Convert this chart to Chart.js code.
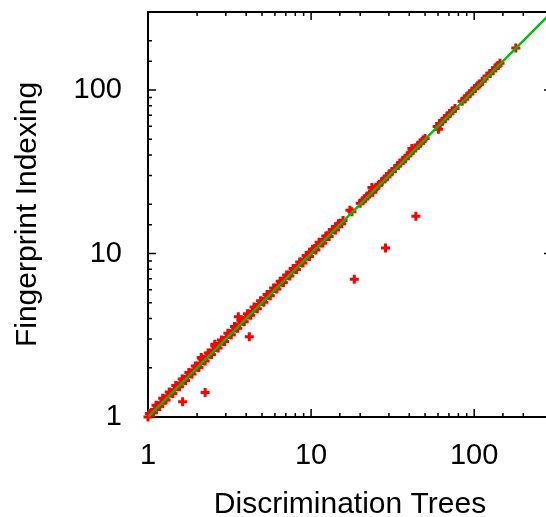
<!DOCTYPE html>
<html><head><meta charset="utf-8">
<script src="https://cdn.jsdelivr.net/npm/chart.js@4"></script>
<style>html,body{margin:0;padding:0;background:#fff;overflow:hidden;width:546px;height:517px}canvas{display:block}</style>
</head><body>
<canvas id="c" width="560" height="517"></canvas>
<script>
const xTitle = 'Discrimination Trees';
const yTitle = 'Fingerprint Indexing';
const labeledTicks = [1, 10, 100];
const axisMin = 1;
const axisMax = 300;
const diagonalEnds = [1, 300];

const discTrees = [
  1.00,1.05,1.10,1.15,1.20,1.26,1.32,1.38,1.45,1.52,1.59,1.66,1.74,1.82,1.91,
  2.00,2.09,2.19,2.29,2.40,2.51,2.63,2.75,2.88,3.02,3.16,3.31,3.47,3.63,3.80,
  3.98,4.17,4.37,4.57,4.79,5.01,5.25,5.50,5.75,6.03,6.31,6.61,6.92,7.24,7.59,
  7.94,8.32,8.71,9.12,9.55,10.0,10.5,11.0,11.5,12.0,12.6,13.2,13.8,14.4,15.1,15.7,
  1.02,1.08,1.12,1.18,1.23,1.29,1.35,1.42,1.48,1.56,1.62,1.70,1.78,1.86,1.95,
  2.05,2.14,2.24,2.34,2.45,2.57,2.69,2.82,2.95,3.09,3.24,3.39,3.55,3.71,3.89,
  4.07,4.27,4.47,4.68,4.90,5.13,5.37,5.62,5.89,6.17,6.46,6.76,7.08,7.41,7.76,
  8.13,8.51,8.91,9.33,9.77,10.2,10.7,11.2,11.8,12.3,12.9,13.5,14.1,14.7,15.4,
  2.12,2.57,17.3,17.8,23.6,41.5,60.4,
  20.0,20.7,21.4,22.1,22.8,23.9,24.3,25.0,25.8,
  27.3,28.2,29.2,30.2,31.3,
  32.8,34.0,35.2,36.5,37.8,39.3,
  40.5,42.0,43.6,45.2,46.9,48.6,50.0,
  59.3,61.5,63.8,66.1,68.5,71.0,73.6,76.3,
  84.4,87.5,90.7,94.0,97.4,101,105,108,112,
  120,125,130,135,140,144,
  180,
  1.63,2.24,4.18,3.58,18.4,28.6,43.9
];
const fpIndexing = [
  1.00,1.06,1.11,1.17,1.22,1.27,1.35,1.40,1.47,1.55,1.61,1.70,1.76,1.86,1.93,
  2.05,2.12,2.25,2.32,2.46,2.55,2.70,2.79,2.94,3.06,3.23,3.36,3.52,3.70,3.86,
  4.05,4.22,4.45,4.63,4.88,5.08,5.33,5.57,5.86,6.10,6.42,6.69,7.05,7.33,7.70,
  8.04,8.45,8.82,9.26,9.66,10.2,10.6,11.2,11.6,12.2,12.8,13.4,14.0,14.6,15.3,15.9,
  1.05,1.06,1.18,1.16,1.30,1.27,1.42,1.39,1.56,1.53,1.71,1.67,1.87,1.83,2.05,
  2.01,2.27,2.20,2.46,2.41,2.72,2.64,2.96,2.90,3.25,3.18,3.58,3.49,3.90,3.82,
  4.28,4.19,4.70,4.60,5.14,5.04,5.62,5.52,6.16,6.06,6.76,6.64,7.40,7.28,8.10,
  7.99,8.88,8.75,9.72,9.60,10.6,10.5,11.7,11.6,12.8,12.7,14.0,13.9,15.2,15.2,
  2.31,2.79,18.4,18.0,25.3,43.9,57.5,
  20.3,21.0,21.6,22.5,23.1,23.7,24.6,25.4,26.1,
  27.7,28.6,29.5,30.7,31.6,
  33.1,34.5,35.6,37.2,38.0,39.9,
  41.2,42.6,44.2,45.9,47.3,49.4,50.6,
  59.8,62.3,64.5,66.8,69.5,71.8,74.6,77.0,
  85.3,88.0,91.8,95.0,98.5,102,106,109,113,
  122,126,131,137,141,146,
  181,
  1.24,1.41,3.10,4.11,6.96,10.8,16.9
];

const FONT = "'Liberation Sans', Arial, Helvetica, sans-serif";
const points = discTrees.map((x, i) => ({x: x, y: fpIndexing[i]}));
const diagonal = diagonalEnds.map(v => ({x: v, y: v}));

function isDecade(v) {
  const l = Math.log10(v);
  return Math.abs(l - Math.round(l)) < 1e-9;
}
function noPad(scale) {
  scale.paddingTop = 0; scale.paddingBottom = 0;
  scale.paddingLeft = 0; scale.paddingRight = 0;
}

const framePlugin = {
  id: 'frame',
  beforeDatasetsDraw(chart) {
    const {ctx, chartArea: a, scales} = chart;
    const sx = scales.x, sy = scales.y;
    ctx.save();
    ctx.strokeStyle = '#000';
    ctx.lineWidth = 1.5;
    ctx.beginPath();
    sx.ticks.forEach(t => {
      const p = sx.getPixelForValue(t.value);
      const len = isDecade(t.value) ? 8 : 4;
      ctx.moveTo(p, a.bottom); ctx.lineTo(p, a.bottom - len);
      ctx.moveTo(p, a.top); ctx.lineTo(p, a.top + len);
    });
    sy.ticks.forEach(t => {
      const p = sy.getPixelForValue(t.value);
      const len = isDecade(t.value) ? 8 : 4;
      ctx.moveTo(a.left, p); ctx.lineTo(a.left + len, p);
      ctx.moveTo(a.right, p); ctx.lineTo(a.right - len, p);
    });
    ctx.stroke();
    ctx.lineWidth = 2;
    ctx.strokeRect(a.left, a.top, a.right - a.left, a.bottom - a.top);
    ctx.restore();
  }
};

new Chart(document.getElementById('c'), {
  type: 'scatter',
  data: {
    datasets: [
      {
        type: 'line',
        label: 'y = x',
        data: diagonal,
        borderColor: '#00c000',
        borderWidth: 2.5,
        pointRadius: 0,
        fill: false,
        order: 0
      },
      {
        label: 'points',
        data: points,
        pointStyle: 'cross',
        pointRadius: 4.5,
        pointBorderWidth: 3,
        borderColor: '#ff0000',
        backgroundColor: '#ff0000',
        clip: false,
        order: 1
      }
    ]
  },
  options: {
    responsive: false,
    devicePixelRatio: 1,
    animation: false,
    layout: {padding: {left: 0, top: 12, right: 8, bottom: 0}},
    plugins: {legend: {display: false}, tooltip: {enabled: false}},
    scales: {
      x: {
        type: 'logarithmic',
        min: axisMin, max: axisMax,
        grid: {display: false},
        border: {display: false},
        afterFit(scale) { scale.height = 100; noPad(scale); },
        ticks: {
          autoSkip: false, maxRotation: 0, minRotation: 0,
          padding: 14,
          color: '#000',
          font: {family: FONT, size: 29},
          callback: (v) => labeledTicks.includes(v) ? String(v) : ''
        },
        title: {
          display: true, text: xTitle, color: '#000',
          font: {family: FONT, size: 30, lineHeight: 0.8},
          padding: {top: 0, bottom: 0}
        }
      },
      y: {
        type: 'logarithmic',
        min: axisMin, max: axisMax,
        grid: {display: false},
        border: {display: false},
        afterFit(scale) { scale.width = 148; noPad(scale); },
        ticks: {
          autoSkip: false,
          padding: 18,
          color: '#000',
          font: {family: FONT, size: 29},
          callback: (v) => labeledTicks.includes(v) ? String(v) : ''
        },
        title: {
          display: true, text: yTitle, color: '#000',
          font: {family: FONT, size: 30, lineHeight: 1.2},
          padding: {top: 10, bottom: 0}
        }
      }
    }
  },
  plugins: [framePlugin]
});
</script>
</body></html>
